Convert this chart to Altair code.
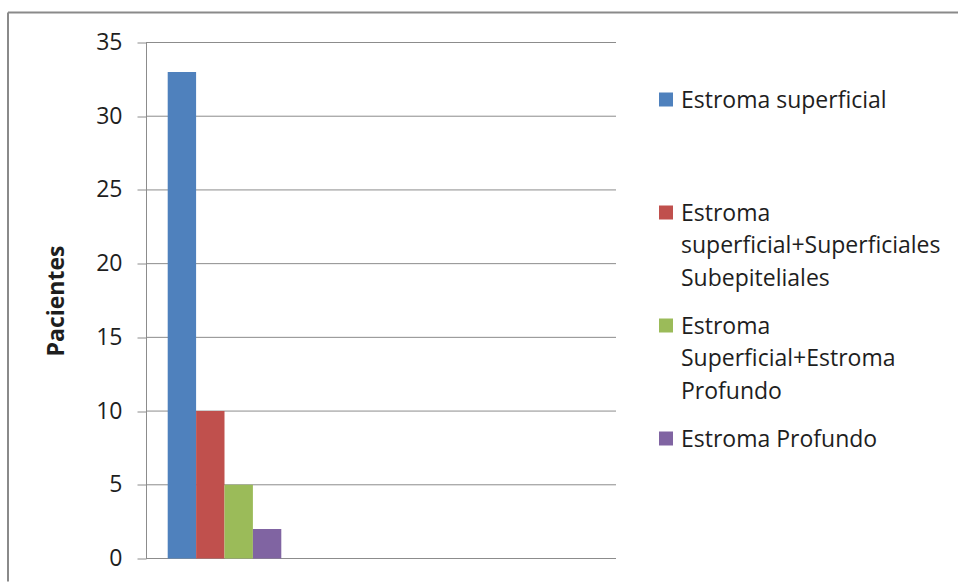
import altair as alt
import pandas as pd

# Patient counts per location of the stromal involvement
series = [
    "Estroma superficial",
    "Estroma superficial+Superficiales Subepiteliales",
    "Estroma Superficial+Estroma Profundo",
    "Estroma Profundo",
]
legend_labels = [
    "Estroma superficial",
    "Estroma\nsuperficial+Superficiales\nSubepiteliales",
    "Estroma\nSuperficial+Estroma\nProfundo",
    "Estroma Profundo",
]
pacientes = [33, 10, 5, 2]
colors = ["#4F81BD", "#C0504D", "#9BBB59", "#8064A2"]
y_ticks = [0, 5, 10, 15, 20, 25, 30, 35]

df = pd.DataFrame({"Serie": series, "Pacientes": pacientes, "Etiqueta": legend_labels})
ticks_df = pd.DataFrame({"Pacientes": y_ticks})
one = pd.DataFrame({"k": [0]})

FONT = "Open Sans"
GRID = "#8c8c8c"
TEXT = "#1e1e1e"
Y_SCALE = alt.Scale(domain=[0, 35], nice=False)

color = alt.Color(
    "Serie:N",
    scale=alt.Scale(domain=series, range=colors),
    legend=None,
)

# horizontal gridlines across the whole plot width
grid = alt.Chart(ticks_df).mark_rule(color=GRID, strokeWidth=1).encode(
    y=alt.Y("Pacientes:Q", scale=Y_SCALE),
    x=alt.value(0),
    x2=alt.value(470),
)

bars = alt.Chart(df).mark_bar(stroke=None).encode(
    x=alt.X(
        "Serie:N",
        sort=series,
        scale=alt.Scale(range=[21.7, 135.3], paddingInner=0, paddingOuter=0),
        axis=None,
    ),
    y=alt.Y(
        "Pacientes:Q",
        scale=Y_SCALE,
        axis=alt.Axis(
            values=y_ticks,
            grid=False,
            domainColor=GRID,
            tickColor=GRID,
            tickSize=9,
            labelFontSize=23,
            labelFont=FONT,
            labelColor=TEXT,
            labelPadding=15,
            title="Pacientes",
            titleFont=FONT,
            titleFontSize=23,
            titleFontWeight="bold",
            titleColor=TEXT,
            titlePadding=27,
        ),
    ),
    color=color,
)

# outer frame: top and left edges of the chart border
frame_top = alt.Chart(one).mark_rule(color="#8a8a8a", strokeWidth=2).encode(
    x=alt.value(-138), x2=alt.value(812), y=alt.value(-30)
)
frame_left = alt.Chart(one).mark_rule(color="#8a8a8a", strokeWidth=2).encode(
    x=alt.value(-138), y=alt.value(-30), y2=alt.value(539)
)

main = alt.layer(frame_top, frame_left, grid, bars).properties(width=470, height=516)

# legend column: one slot per series
legend_y = alt.Y(
    "Serie:N",
    sort=series,
    scale=alt.Scale(type="point", range=[57, 396], padding=0),
    axis=None,
)
leg_squares = alt.Chart(df).mark_square(size=196, opacity=1, stroke=None).encode(
    y=legend_y, x=alt.value(50), color=color
)
leg_text = alt.Chart(df).mark_text(
    align="left",
    baseline="alphabetic",
    dy=8,
    fontSize=23,
    font=FONT,
    color=TEXT,
    lineBreak="\n",
    lineHeight=32.5,
).encode(y=legend_y, x=alt.value(65), text="Etiqueta:N")

legend = alt.layer(leg_squares, leg_text).properties(width=330, height=516)

chart = (
    alt.hconcat(main, legend, spacing=0, bounds="flush")
    .properties(padding={"left": 7, "top": 11.5, "right": 0, "bottom": 0})
    .configure(background="white", font=FONT)
    .configure_view(strokeWidth=0)
)

chart.save("out.html", embed_options={"renderer": "svg", "actions": False})
